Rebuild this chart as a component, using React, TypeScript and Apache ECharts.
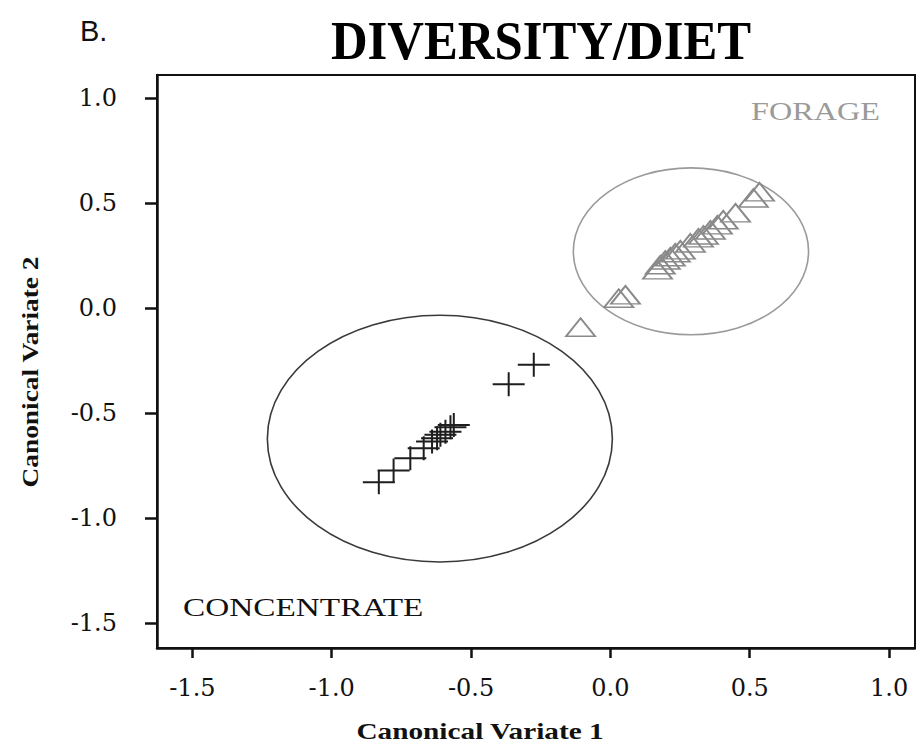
import React, { useEffect, useRef } from "react";
import * as echarts from "echarts";

const xTicks = [-1.5, -1.0, -0.5, 0.0, 0.5, 1.0];
const yTicks = [-1.5, -1.0, -0.5, 0.0, 0.5, 1.0];

const concentrateX = [-0.275, -0.365, -0.831, -0.778, -0.718, -0.67, -0.64, -0.622, -0.61, -0.592, -0.574, -0.562];
const concentrateY = [-0.27, -0.362, -0.828, -0.773, -0.714, -0.667, -0.635, -0.619, -0.603, -0.588, -0.567, -0.556];

const forageX = [-0.107, 0.03, 0.054, 0.169, 0.179, 0.197, 0.215, 0.233, 0.251, 0.287, 0.316, 0.334, 0.359, 0.384, 0.405, 0.449, 0.513, 0.535];
const forageY = [-0.091, 0.047, 0.063, 0.182, 0.206, 0.229, 0.244, 0.263, 0.277, 0.31, 0.334, 0.348, 0.372, 0.396, 0.42, 0.453, 0.524, 0.553];

// [centerX, centerY, radiusX, radiusY] in data units
const concentrateEllipse = [-0.612, -0.621, 0.619, 0.587];
const forageEllipse = [0.289, 0.27, 0.422, 0.397];

const PLUS = "path://M0 11h32v2H0z M15 0h2v24h-2z";

function ellipseSeries(values: number[], color: string) {
  return {
    type: "custom",
    silent: true,
    z: 1,
    data: [values],
    renderItem: (_p: any, api: any) => {
      const c = api.coord([api.value(0), api.value(1)]);
      const s = api.size([api.value(2), api.value(3)]);
      return {
        type: "ellipse",
        shape: { cx: c[0], cy: c[1], rx: s[0], ry: s[1] },
        style: { fill: "none", stroke: color, lineWidth: 1.6 },
      };
    },
  };
}

export default function App() {
  const ref = useRef<HTMLDivElement>(null);
  useEffect(() => {
    if (!ref.current) return;
    const chart = echarts.init(ref.current, undefined, { renderer: "svg" });
    const serif = "Liberation Serif";
    const tickFont = "DejaVu Serif";
    chart.setOption({
      animation: false,
      backgroundColor: "#ffffff",
      grid: {
        left: 157,
        top: 75,
        right: 1,
        bottom: 96,
        show: true,
        borderColor: "#111",
        borderWidth: 2,
      },
      xAxis: {
        type: "value",
        min: -1.627,
        max: 1.093,
        splitLine: { show: false },
        axisLine: { onZero: false, lineStyle: { color: "#111", width: 2.5 } },
        axisTick: { show: true, customValues: xTicks, length: 10, lineStyle: { color: "#111", width: 2.5 } },
        axisLabel: {
          customValues: xTicks,
          formatter: (v: number) => v.toFixed(1),
          fontFamily: tickFont,
          fontSize: 24,
          color: "#111",
          margin: 28,
        },
      },
      yAxis: {
        type: "value",
        min: -1.617,
        max: 1.109,
        splitLine: { show: false },
        axisLine: { onZero: false, lineStyle: { color: "#111", width: 2.5 } },
        axisTick: { show: true, customValues: yTicks, length: 12, lineStyle: { color: "#111", width: 2.5 } },
        axisLabel: {
          customValues: yTicks,
          formatter: (v: number) => v.toFixed(1),
          fontFamily: tickFont,
          fontSize: 24,
          color: "#111",
          margin: 40,
        },
      },
      graphic: [
        {
          type: "text",
          x: 80,
          y: 31,
          style: { text: "B.", fontFamily: "Liberation Sans", fontSize: 29, fill: "#111", textAlign: "left", align: "left", textVerticalAlign: "middle", verticalAlign: "middle" },
        },
        {
          type: "text",
          x: 541,
          y: 40,
          scaleX: 0.94,
          style: { text: "DIVERSITY/DIET", fontFamily: serif, fontWeight: "bold", fontSize: 54, fill: "#000", textAlign: "center", align: "center", textVerticalAlign: "middle", verticalAlign: "middle" },
        },
        {
          type: "text",
          x: 480,
          y: 731,
          scaleX: 1.22,
          style: { text: "Canonical Variate 1", fontFamily: serif, fontWeight: "bold", fontSize: 24, fill: "#111", textAlign: "center", align: "center", textVerticalAlign: "middle", verticalAlign: "middle" },
        },
        {
          type: "text",
          x: 30,
          y: 372,
          rotation: Math.PI / 2,
          scaleX: 1.14,
          style: { text: "Canonical Variate 2", fontFamily: serif, fontWeight: "bold", fontSize: 24, fill: "#111", textAlign: "center", align: "center", textVerticalAlign: "middle", verticalAlign: "middle" },
        },
        {
          type: "text",
          x: 183,
          y: 607,
          scaleX: 1.28,
          style: { text: "CONCENTRATE", fontFamily: serif, fontSize: 26, fill: "#111", textAlign: "left", align: "left", textVerticalAlign: "middle", verticalAlign: "middle" },
        },
        {
          type: "text",
          x: 880,
          y: 111,
          scaleX: 1.24,
          style: { text: "FORAGE", fontFamily: serif, fontSize: 26, fill: "#9a9a9a", textAlign: "right", align: "right", textVerticalAlign: "middle", verticalAlign: "middle" },
        },
      ],
      series: [
        ellipseSeries(concentrateEllipse, "#3a3a3a"),
        ellipseSeries(forageEllipse, "#9a9a9a"),
        {
          type: "scatter",
          z: 3,
          symbol: "triangle",
          symbolSize: [29, 18],
          itemStyle: { color: "rgba(0,0,0,0)", borderColor: "#8a8a8a", borderWidth: 1.8, opacity: 1 },
          data: forageX.map((x, i) => [x, forageY[i]]),
        },
        {
          type: "scatter",
          z: 4,
          symbol: PLUS,
          symbolSize: [32, 24],
          itemStyle: { color: "#1e1e1e", opacity: 1 },
          data: concentrateX.map((x, i) => [x, concentrateY[i]]),
        },
      ],
    });
    return () => chart.dispose();
  }, []);
  return <div ref={ref} style={{ position: "fixed", left: 0, top: 0, width: 916, height: 744 }} />;
}
